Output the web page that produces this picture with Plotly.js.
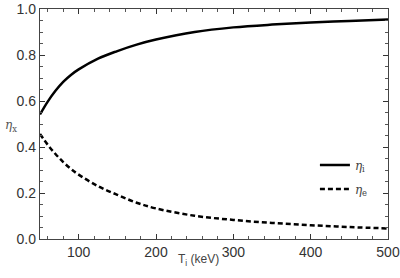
<!DOCTYPE html>
<html>
<head>
<meta charset="utf-8">
<script src="https://cdn.plot.ly/plotly-3.0.1.min.js"></script>
<style>
  html, body { margin: 0; padding: 0; background: #fff; }
  #plot { width: 400px; height: 278px; }
</style>
</head>
<body>
<div id="plot"></div>
<script>
// Ion temperature (keV)
const temps = [50, 60, 70, 80, 90, 100, 125, 150, 175, 200, 250, 300, 350, 400, 450, 500];
// ion fraction
const etaIon = [0.542, 0.598, 0.645, 0.684, 0.714, 0.738, 0.785, 0.818, 0.846, 0.868, 0.901, 0.921, 0.933, 0.942, 0.949, 0.955];
// electron fraction
const etaElec = [0.457, 0.41, 0.37, 0.335, 0.305, 0.28, 0.23, 0.192, 0.158, 0.133, 0.101, 0.083, 0.07, 0.06, 0.052, 0.046];

const xTicks = [100, 200, 300, 400, 500];
const yTicks = [0.0, 0.2, 0.4, 0.6, 0.8, 1.0];

const traces = [
  {
    x: temps, y: etaIon, type: 'scatter', mode: 'lines',
    name: '<i>η</i><sub>i</sub>', legendgroup: 'ion',
    line: {color: '#000', width: 2.5, shape: 'spline'}
  },
  {
    x: temps, y: etaElec, type: 'scatter', mode: 'lines',
    name: '<i>η</i><sub>e</sub>', legendgroup: 'elec',
    line: {color: '#000', width: 2.5, shape: 'spline', dash: '5px,3px'}
  }
];

const tickFont = {family: 'Liberation Sans, Arial, sans-serif', size: 14, color: '#333'};

const layout = {
  width: 400, height: 278,
  margin: {l: 40, r: 12, t: 9, b: 39},
  paper_bgcolor: '#fff', plot_bgcolor: '#fff',
  showlegend: true,
  legend: {
    x: 0.79, y: 0.385, xanchor: 'left', yanchor: 'top',
    bgcolor: 'rgba(0,0,0,0)',
    font: {family: 'DejaVu Serif, serif', size: 12, color: '#444'},
    tracegroupgap: 5
  },
  xaxis: {
    range: [50, 500],
    tickvals: xTicks,
    ticks: 'inside', ticklen: 5, tickwidth: 1, tickcolor: '#333',
    minor: {dtick: 20, tick0: 0, ticks: 'inside', ticklen: 3, tickwidth: 1, tickcolor: '#555'},
    showgrid: false, zeroline: false,
    showline: true, linecolor: '#444', linewidth: 1.2, mirror: 'allticks',
    tickfont: tickFont
  },
  yaxis: {
    range: [0, 1.001],
    tickvals: yTicks,
    ticktext: yTicks.map(v => v.toFixed(1)),
    ticks: 'inside', ticklen: 5, tickwidth: 1, tickcolor: '#333',
    minor: {dtick: 0.05, tick0: 0, ticks: 'inside', ticklen: 3, tickwidth: 1, tickcolor: '#555'},
    showgrid: false, zeroline: false,
    showline: true, linecolor: '#444', linewidth: 1.2, mirror: 'allticks',
    tickfont: tickFont
  },
  annotations: [
    {
      text: '<i>η</i><sub>x</sub>', xref: 'paper', yref: 'paper',
      x: -0.06, y: 0.49, xanchor: 'right', yanchor: 'middle', showarrow: false,
      font: {family: 'DejaVu Serif, serif', size: 12, color: '#555'}
    },
    {
      text: 'T<sub>i</sub> (keV)', xref: 'paper', yref: 'paper',
      x: 0.455, y: -0.09, xanchor: 'center', yanchor: 'middle', showarrow: false,
      font: {family: 'Liberation Sans, Arial, sans-serif', size: 12, color: '#444'}
    }
  ]
};

Plotly.newPlot('plot', traces, layout, {displayModeBar: false, staticPlot: true});
</script>
</body>
</html>
